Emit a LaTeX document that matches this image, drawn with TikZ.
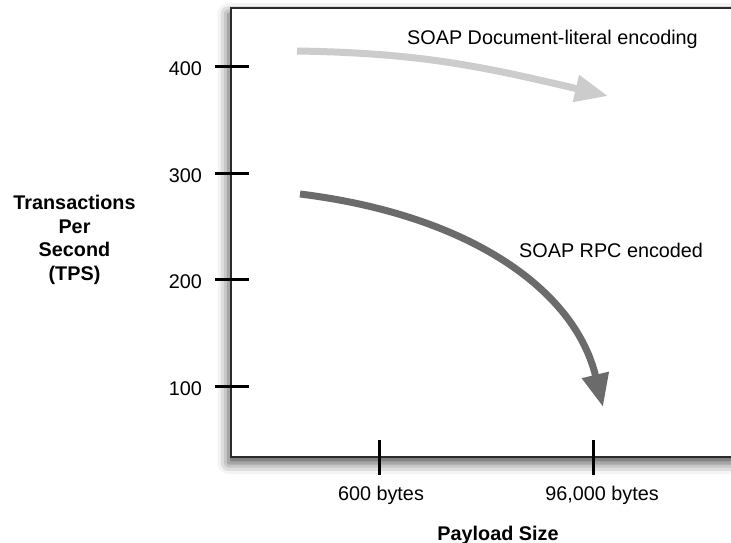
\documentclass[tikz,border=0pt]{standalone}
\usepackage{fontspec}
\setmainfont{Liberation Sans}
\usetikzlibrary{arrows.meta,shadows.blur}
\definecolor{framecol}{HTML}{2B2B2B}
\definecolor{lightarrow}{HTML}{CCCCCC}
\definecolor{darkarrow}{HTML}{6B6B6B}
\begin{document}
\begin{tikzpicture}[x=1pt,y=-1pt,
  lbl/.style={font=\fontsize{19.8}{23.7}\selectfont, inner sep=0pt},
  axislbl/.style={font=\fontsize{19.8}{23.7}\selectfont\bfseries, inner sep=0pt, align=center},
  tickmark/.style={line width=3pt, black},
  trend/.style={line width=7pt, -{Triangle[length=33pt,width=26pt]}},
]
\useasboundingbox (0,0) rectangle (731,543);

% plot frame with soft drop shadow (right side runs off the page)
\begin{scope}
  \clip (0,0) rectangle (731,543);
  \path[fill=white, draw=framecol, line width=2pt,
        blur shadow={shadow xshift=-2.5pt, shadow yshift=-6pt,
                     shadow blur radius=11pt, shadow opacity=70}]
    (231,8) rectangle (760,457);
\end{scope}

% y-axis ticks and labels
\foreach \v/\y in {400/66.5, 300/173.5, 200/279.5, 100/386} {
  \draw[tickmark] (215,\y) -- (249,\y);
  \node[lbl, anchor=base east] (t\v) at (202,\y+9) {\v};
}

% x-axis ticks and labels
\draw[tickmark] (379,440) -- (379,475);
\draw[tickmark] (593,440) -- (593,475);
\node[lbl, anchor=base] (x600) at (381,500) {600 bytes};
\node[lbl, anchor=base] (x96k) at (602,500) {96,000 bytes};

% axis titles
\node[axislbl, anchor=base] (xtitle) at (498,540) {Payload Size};
\node[axislbl, anchor=north] (ytitle) at (74.5,195) {Transactions\\Per\\Second\\(TPS)};

% trend arrows
\coordinate (docStart) at (297,51);
\coordinate (docEnd) at (608,96);
\coordinate (rpcStart) at (300,194);
\coordinate (rpcEnd) at (603,407);
\draw[trend, lightarrow] (docStart) .. controls (420,53) and (480,66) .. (docEnd);
\draw[trend, darkarrow] (rpcStart) .. controls (470,215) and (575,290) .. (rpcEnd);

\node[lbl, anchor=base west] (docLabel) at (407,45) {SOAP Document-literal encoding};
\node[lbl, anchor=base west] (rpcLabel) at (519,257) {SOAP RPC encoded};
\end{tikzpicture}
\end{document}
